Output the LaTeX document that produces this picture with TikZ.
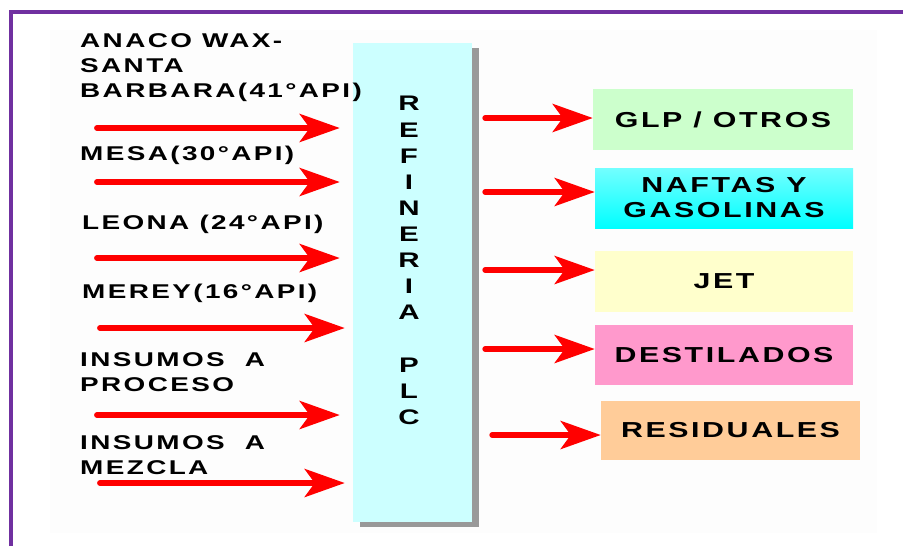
\documentclass[tikz,border=0pt]{standalone}
\usepackage{fontspec}
\setmainfont{Liberation Sans}
\newfontfamily\rotulo{Liberation Sans}[FakeStretch=1.4,LetterSpace=12]
\usetikzlibrary{arrows.meta,shadows}

\definecolor{morado}{HTML}{7030A0}
\definecolor{celeste}{HTML}{CCFFFF}
\definecolor{verdeglp}{HTML}{CCFFCC}
\definecolor{amarillojet}{HTML}{FFFFCC}
\definecolor{rosadest}{HTML}{FF99CC}
\definecolor{naranjares}{HTML}{FFCC99}

\tikzset{
  flecha/.style={red, line width=5pt, line cap=round,
    -{Stealth[length=1.2cm,width=0.84cm,inset=0.3cm]}},
  entrada/.style={anchor=west, inner sep=0pt, align=left,
    font=\rotulo\bfseries\fontsize{17pt}{21.3pt}\selectfont},
  producto/.style={minimum width=7.8cm, minimum height=1.8cm, inner sep=0pt,
    align=center, font=\rotulo\bfseries\fontsize{18.5pt}{21.3pt}\selectfont},
}

\begin{document}
\begin{tikzpicture}[x=0.03cm,y=-0.03cm]%,>=stealth]

\useasboundingbox (0,0) rectangle (903,546);
\fill[black!0.6] (50,30) rectangle (877,533);
\draw[morado, line width=0.12cm] (11,546) -- (11,12) -- (903,12);

% refineria
\node[fill=celeste, minimum width=3.57cm, minimum height=14.37cm, inner sep=0pt,
  drop shadow={shadow xshift=0.2cm, shadow yshift=-0.15cm, fill=gray!80, opacity=1}]
  (refi) at (412.5,282.5) {};
\node[align=center, inner sep=0pt, font=\rotulo\bfseries\fontsize{18pt}{22.3pt}\selectfont]
  (plc) at (409,260.5) {R\\E\\F\\I\\N\\E\\R\\I\\A\\[22.3pt]P\\L\\C};

% crudos e insumos
\node[entrada] (anaco) at (80,68) {ANACO WAX-\\SANTA\\BARBARA(41°API)};
\node[entrada] (mesa) at (80,155) {MESA(30°API)};
\node[entrada] (leona) at (82,224) {LEONA (24°API)};
\node[entrada] (merey) at (82,293) {MEREY(16°API)};
\node[entrada] (proceso) at (80,372.5) {INSUMOS\ \ A\\PROCESO};
\node[entrada] (mezcla) at (80,455) {INSUMOS\ \ A\\MEZCLA};

\coordinate (e1) at (97,128);
\coordinate (e2) at (97,182);
\coordinate (e3) at (97,258);
\coordinate (e4) at (100,328);
\coordinate (e5) at (97,415);
\coordinate (e6) at (100,483);

\draw[flecha, shorten >=0.39cm] (e1) -- (e1 -| refi.west);
\draw[flecha, shorten >=0.39cm] (e2) -- (e2 -| refi.west);
\draw[flecha, shorten >=0.39cm] (e3) -- (e3 -| refi.west);
\draw[flecha, shorten >=0.24cm] (e4) -- (e4 -| refi.west);
\draw[flecha, shorten >=0.39cm] (e5) -- (e5 -| refi.west);
\draw[flecha, shorten >=0.24cm] (e6) -- (e6 -| refi.west);

% productos
\node[producto, fill=verdeglp, minimum height=1.83cm] (glp) at (723,119.5) {GLP / OTROS};
\node[producto, top color=cyan!55, bottom color=cyan, minimum width=7.74cm] (naftas) at (724,198) {NAFTAS Y\\GASOLINAS};
\node[producto, fill=amarillojet, minimum width=7.74cm, minimum height=1.83cm] (jet) at (724,281.5) {JET};
\node[producto, fill=rosadest, minimum width=7.74cm] (destil) at (724,355) {DESTILADOS};
\node[producto, fill=naranjares, minimum width=7.77cm, minimum height=1.77cm] (resid) at (730.5,430.5) {RESIDUALES};

\draw[flecha, shorten <=0.39cm] (refi.east |- 0,118) -- (glp.west |- 0,118);
\draw[flecha, shorten <=0.39cm] (refi.east |- 0,192) -- (naftas.west |- 0,192);
\draw[flecha, shorten <=0.39cm] (refi.east |- 0,270) -- (jet.west |- 0,270);
\draw[flecha, shorten <=0.39cm] (refi.east |- 0,349) -- (destil.west |- 0,349);
\draw[flecha, shorten <=0.6cm] (refi.east |- 0,435) -- (resid.west |- 0,435);

\end{tikzpicture}
\end{document}
